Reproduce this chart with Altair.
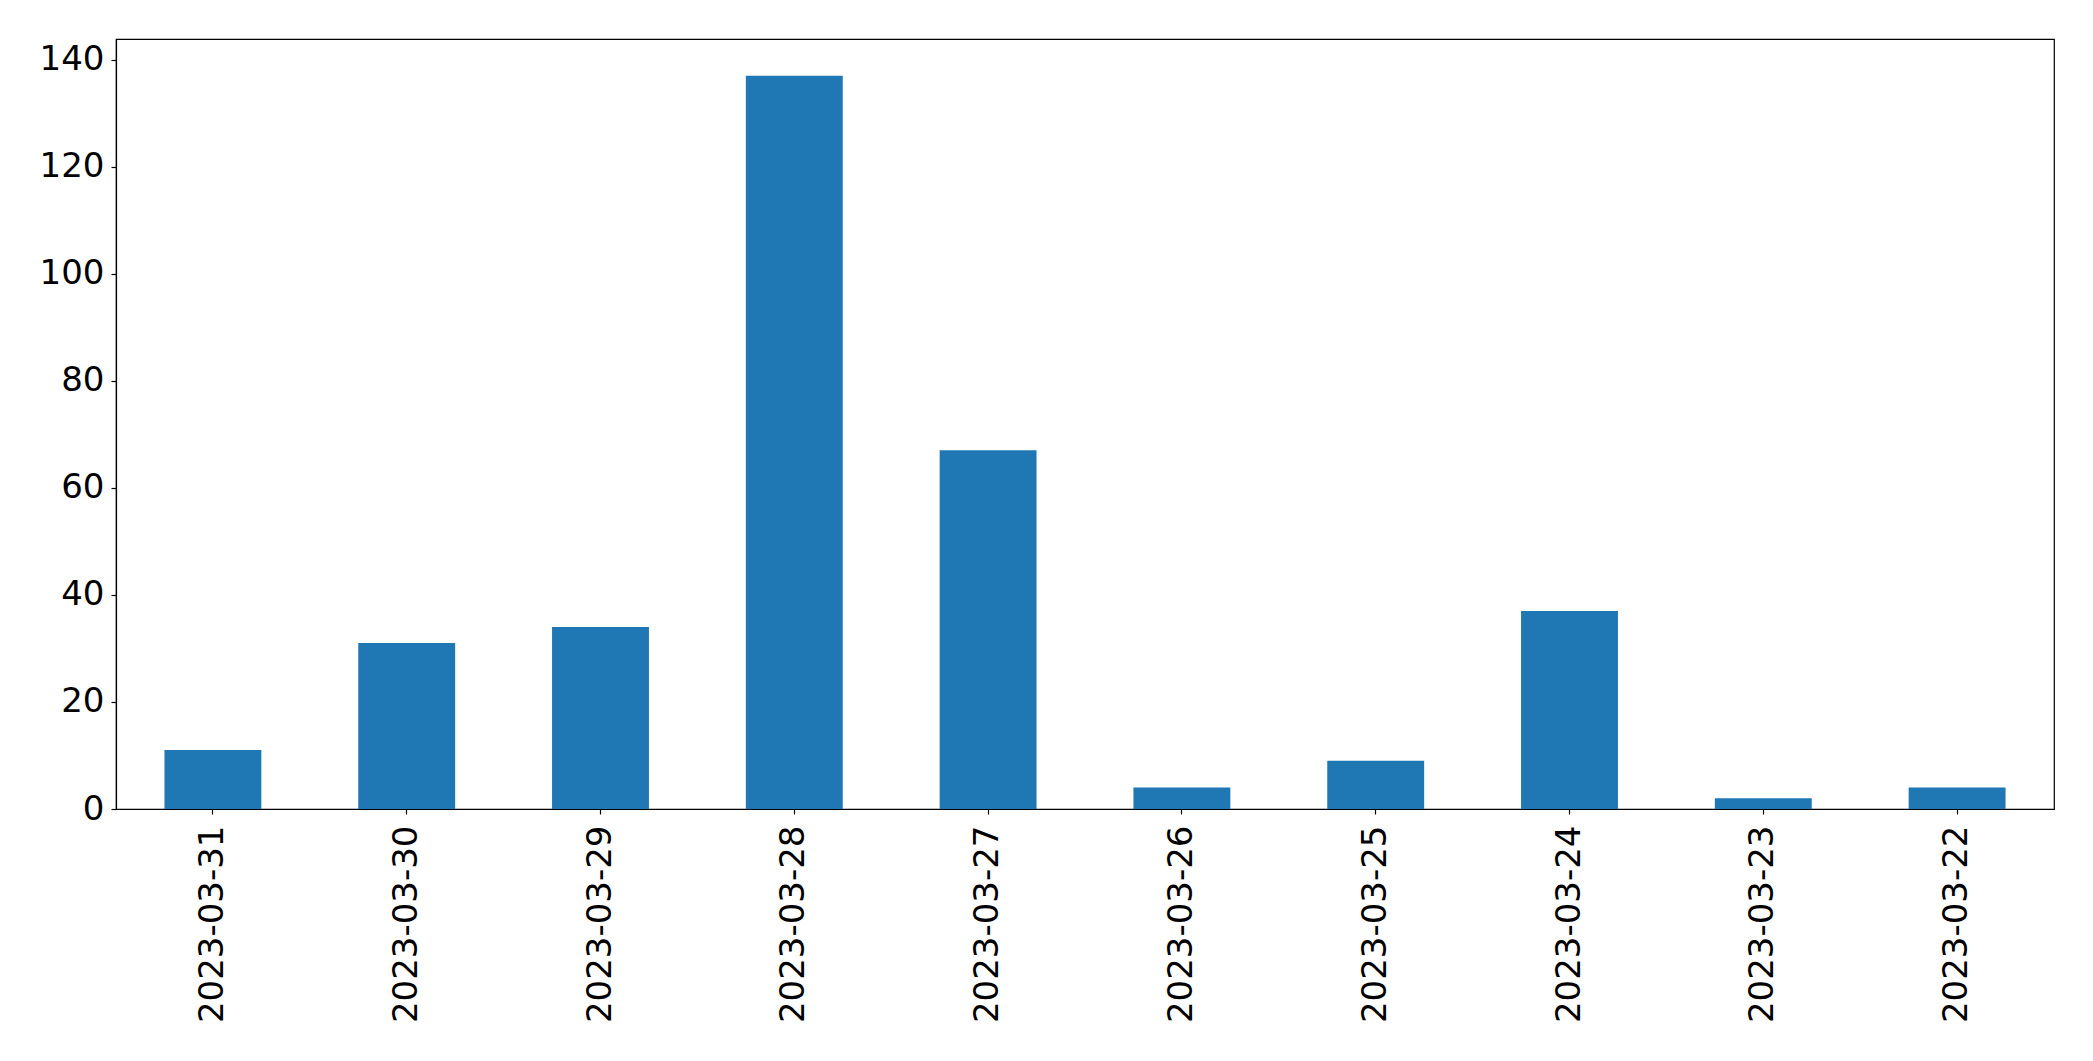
import altair as alt
import pandas as pd

dates = ["2023-03-31", "2023-03-30", "2023-03-29", "2023-03-28", "2023-03-27",
         "2023-03-26", "2023-03-25", "2023-03-24", "2023-03-23", "2023-03-22"]
counts = [11, 31, 34, 137, 67, 4, 9, 37, 2, 4]
y_ticks = [0, 20, 40, 60, 80, 100, 120, 140]

df = pd.DataFrame({"date": dates, "count": counts})

FONT = "DejaVu Sans"
FS = 34

chart = alt.Chart(df).mark_bar(color="#1f77b4").encode(
    x=alt.X("date:N", sort=None, title=None,
            scale=alt.Scale(paddingInner=0.5, paddingOuter=0.25),
            axis=alt.Axis(labelAngle=270, labelFontSize=FS, labelFont=FONT,
                          labelColor="black", tickColor="black", domainColor="black",
                          tickSize=5, labelPadding=11, labelBaseline="middle",
                          labelAlign="right", labelLimit=0)),
    y=alt.Y("count:Q", title=None,
            scale=alt.Scale(domain=[0, 143.85], nice=False, zero=True),
            axis=alt.Axis(values=y_ticks, grid=False, labelFontSize=FS, labelFont=FONT,
                          labelColor="black", tickColor="black", domainColor="black",
                          tickSize=5, labelPadding=7, labelBaseline="middle",
                          labelLimit=0)),
).properties(
    width=1938, height=770,
    autosize=alt.AutoSizeParams(type="none"),
    padding={"left": 108, "top": 31, "right": 30, "bottom": 240},
).configure_view(
    stroke="black", strokeWidth=1.2
).configure_axis(
    domainWidth=1.2, tickWidth=1.2
)

chart.save("out.html", embed_options={"renderer": "svg", "actions": False})
